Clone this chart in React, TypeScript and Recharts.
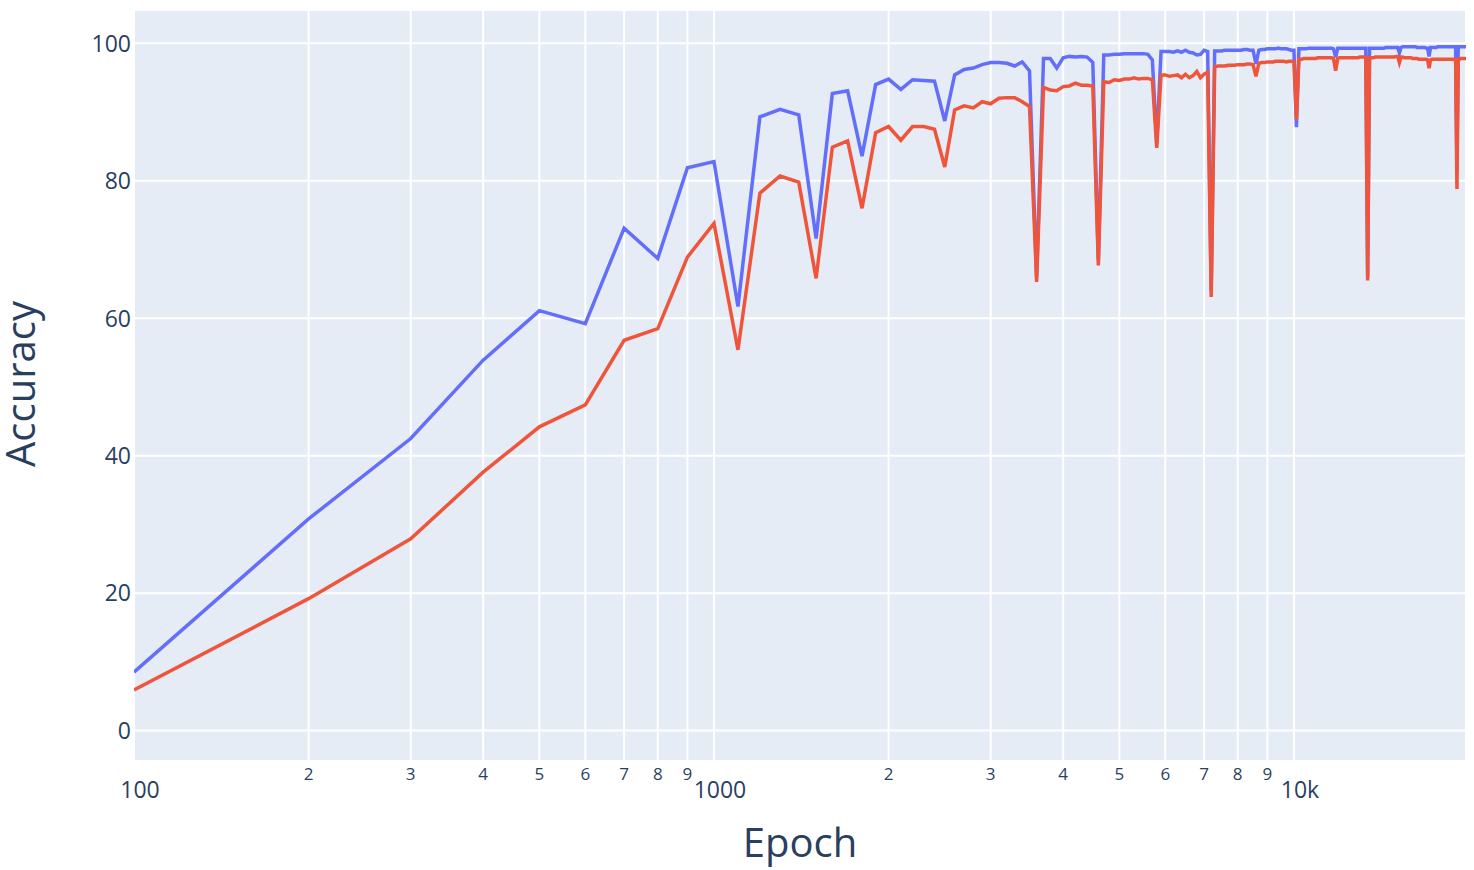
import { LineChart, Line, XAxis, YAxis, CartesianGrid } from 'recharts';

// one checkpoint every 100 epochs
const epochs = [
  100, 200, 300, 400, 500, 600, 700, 800, 900, 1000,
  1100, 1200, 1300, 1400, 1500, 1600, 1700, 1800, 1900, 2000,
  2100, 2200, 2300, 2400, 2500, 2600, 2700, 2800, 2900, 3000,
  3100, 3200, 3300, 3400, 3500, 3600, 3700, 3800, 3900, 4000,
  4100, 4200, 4300, 4400, 4500, 4600, 4700, 4800, 4900, 5000,
  5100, 5200, 5300, 5400, 5500, 5600, 5700, 5800, 5900, 6000,
  6100, 6200, 6300, 6400, 6500, 6600, 6700, 6800, 6900, 7000,
  7100, 7200, 7300, 7400, 7500, 7600, 7700, 7800, 7900, 8000,
  8100, 8200, 8300, 8400, 8500, 8600, 8700, 8800, 8900, 9000,
  9100, 9200, 9300, 9400, 9500, 9600, 9700, 9800, 9900, 10000,
  10100, 10200, 10300, 10400, 10500, 10600, 10700, 10800, 10900, 11000,
  11100, 11200, 11300, 11400, 11500, 11600, 11700, 11800, 11900, 12000,
  12100, 12200, 12300, 12400, 12500, 12600, 12700, 12800, 12900, 13000,
  13100, 13200, 13300, 13400, 13500, 13600, 13700, 13800, 13900, 14000,
  14100, 14200, 14300, 14400, 14500, 14600, 14700, 14800, 14900, 15000,
  15100, 15200, 15300, 15400, 15500, 15600, 15700, 15800, 15900, 16000,
  16100, 16200, 16300, 16400, 16500, 16600, 16700, 16800, 16900, 17000,
  17100, 17200, 17300, 17400, 17500, 17600, 17700, 17800, 17900, 18000,
  18100, 18200, 18300, 18400, 18500, 18600, 18700, 18800, 18900, 19000,
  19100, 19200, 19300, 19400, 19500, 19600, 19700, 19800,
];

// blue line
const trainAcc = [
  8.5, 30.8, 42.5, 53.9, 61.1, 59.2, 73.1, 68.7, 81.9, 82.8,
  61.7, 89.3, 90.4, 89.6, 71.6, 92.7, 93.1, 83.6, 94.0, 94.8,
  93.3, 94.7, 94.6, 94.5, 88.7, 95.4, 96.2, 96.4, 96.9, 97.2,
  97.2, 97.1, 96.7, 97.3, 96.0, 66.0, 97.8, 97.8, 96.4, 97.9,
  98.1, 98.0, 98.1, 98.0, 97.2, 68.5, 98.3, 98.3, 98.4, 98.4,
  98.5, 98.5, 98.5, 98.5, 98.5, 98.4, 97.6, 85.5, 98.8, 98.8,
  98.8, 98.7, 98.9, 98.7, 99.0, 98.7, 98.6, 98.3, 98.4, 99.0,
  98.8, 64.0, 98.9, 98.9, 98.9, 99.0, 99.0, 99.0, 99.0, 99.0,
  99.0, 99.1, 99.1, 99.0, 99.0, 97.0, 99.0, 99.1, 99.1, 99.2,
  99.2, 99.2, 99.2, 99.3, 99.2, 99.2, 99.2, 99.1, 99.0, 99.0,
  87.8, 99.2, 99.2, 99.2, 99.2, 99.3, 99.3, 99.3, 99.3, 99.3,
  99.3, 99.3, 99.3, 99.3, 99.3, 99.3, 99.2, 98.0, 99.3, 99.3,
  99.3, 99.3, 99.3, 99.3, 99.3, 99.3, 99.3, 99.3, 99.3, 99.3,
  99.3, 99.3, 99.3, 66.0, 99.3, 99.3, 99.3, 99.3, 99.3, 99.3,
  99.3, 99.3, 99.3, 99.4, 99.4, 99.4, 99.4, 99.4, 99.4, 99.4,
  99.4, 98.6, 99.4, 99.5, 99.5, 99.5, 99.5, 99.5, 99.5, 99.5,
  99.5, 99.5, 99.4, 99.4, 99.4, 99.4, 99.4, 99.4, 99.3, 99.3,
  98.1, 99.4, 99.4, 99.4, 99.4, 99.4, 99.5, 99.5, 99.5, 99.5,
  99.5, 99.5, 99.5, 99.5, 99.5, 99.5, 99.5, 99.5, 99.5, 99.5,
  81.5, 99.5, 99.5, 99.5, 99.5, 99.5, 99.5, 99.5,
];

// red line
const testAcc = [
  5.9, 19.2, 27.9, 37.6, 44.2, 47.4, 56.8, 58.5, 68.9, 73.8,
  55.4, 78.2, 80.7, 79.8, 65.8, 84.9, 85.8, 76.0, 87.0, 87.9,
  85.9, 87.9, 87.9, 87.5, 82.0, 90.3, 90.9, 90.6, 91.5, 91.2,
  92.0, 92.1, 92.1, 91.5, 90.8, 65.3, 93.6, 93.2, 93.1, 93.7,
  93.8, 94.2, 93.9, 93.9, 93.8, 67.7, 94.4, 94.3, 94.7, 94.6,
  94.8, 94.8, 95.0, 94.8, 94.9, 94.9, 94.7, 84.8, 95.4, 95.4,
  95.2, 95.3, 95.4, 95.0, 95.5, 95.0, 95.3, 95.9, 95.0, 95.5,
  95.8, 63.1, 96.6, 96.7, 96.7, 96.7, 96.8, 96.8, 96.8, 96.9,
  96.9, 96.9, 97.0, 97.0, 96.9, 95.2, 97.1, 97.2, 97.2, 97.3,
  97.3, 97.3, 97.4, 97.4, 97.4, 97.4, 97.3, 97.4, 97.4, 97.3,
  88.9, 97.7, 97.7, 97.8, 97.8, 97.8, 97.8, 97.8, 97.8, 97.9,
  97.9, 97.9, 97.9, 97.9, 97.9, 97.9, 97.8, 96.0, 97.8, 97.9,
  97.9, 97.9, 97.9, 97.9, 97.9, 97.9, 97.9, 97.9, 97.9, 98.0,
  98.0, 98.0, 98.0, 65.5, 97.9, 97.9, 97.9, 98.0, 98.0, 98.0,
  98.0, 98.0, 98.0, 98.0, 98.0, 98.0, 98.0, 98.0, 98.0, 98.1,
  98.1, 97.2, 98.0, 98.0, 97.9, 97.9, 97.9, 97.9, 97.9, 97.8,
  97.8, 97.8, 97.8, 97.7, 97.7, 97.7, 97.7, 97.7, 97.7, 97.6,
  96.4, 97.6, 97.7, 97.7, 97.7, 97.7, 97.7, 97.7, 97.7, 97.7,
  97.7, 97.7, 97.7, 97.7, 97.7, 97.7, 97.7, 97.7, 97.7, 97.6,
  78.8, 97.7, 97.7, 97.8, 97.8, 97.8, 97.8, 97.8,
];

const xTicks = [
  100, 200, 300, 400, 500, 600, 700, 800, 900,
  1000, 2000, 3000, 4000, 5000, 6000, 7000, 8000, 9000,
  10000,
];
const xTickLabels = [
  '100', '2', '3', '4', '5', '6', '7', '8', '9',
  '1000', '2', '3', '4', '5', '6', '7', '8', '9',
  '10k',
];
const majorTicks = [100, 1000, 10000];
const yTicks = [0, 20, 40, 60, 80, 100];

const data = epochs.map((epoch, i) => ({ epoch, train: trainAcc[i], test: testAcc[i] }));

const TEXT = '#2a3f5f';
const FONT = '"Open Sans", verdana, arial, sans-serif';

function EpochTick({ x, y, payload }: { x?: number; y?: number; payload?: { value: number } }) {
  const value = payload?.value ?? 0;
  const label = xTickLabels[xTicks.indexOf(value)];
  if (majorTicks.includes(value)) {
    return (
      <text x={(x ?? 0) + 6} y={(y ?? 0) + 37} textAnchor="middle" fontSize={23} fill={TEXT} fontFamily={FONT}>
        {label}
      </text>
    );
  }
  return (
    <text x={x} y={(y ?? 0) + 19} textAnchor="middle" fontSize={17} fill={TEXT} fontFamily={FONT}>
      {label}
    </text>
  );
}

function AccuracyTick({ x, y, payload }: { x?: number; y?: number; payload?: { value: number } }) {
  return (
    <text x={x} y={y} dy="0.36em" textAnchor="end" fontSize={23} fill={TEXT} fontFamily={FONT}>
      {payload?.value}
    </text>
  );
}

export default function App() {
  return (
    <div style={{ position: 'fixed', left: 0, top: 0, width: 1474, height: 870, background: '#fff' }}>
      <LineChart width={1474} height={870} data={data} margin={{ top: 10, right: 8, bottom: 49, left: 74 }}>
        <CartesianGrid fill="#E5ECF6" stroke="#ffffff" strokeWidth={2} />
        <XAxis
          dataKey="epoch"
          type="number"
          scale="log"
          domain={[100, 19800]}
          allowDataOverflow
          ticks={xTicks}
          interval={0}
          tick={(props: any) => <EpochTick {...props} />}
          tickLine={false}
          axisLine={false}
          tickSize={0}
          tickMargin={0}
          height={60}
        />
        <YAxis
          type="number"
          domain={[-4.42, 104.85]}
          allowDataOverflow
          ticks={yTicks}
          interval={0}
          tick={(props: any) => <AccuracyTick {...props} />}
          tickLine={false}
          axisLine={false}
          tickSize={0}
          tickMargin={3}
          width={60}
        />
        <Line type="linear" dataKey="train" stroke="#636efa" strokeWidth={3.5} dot={false} isAnimationActive={false} />
        <Line type="linear" dataKey="test" stroke="#ef553b" strokeWidth={3.5} dot={false} isAnimationActive={false} />
      </LineChart>
      <svg width={1474} height={870} style={{ position: 'absolute', left: 0, top: 0, pointerEvents: 'none' }}>
        <text x={35} y={384} transform="rotate(-90 35 384)" textAnchor="middle" fontSize={40} fill={TEXT} fontFamily={FONT}>
          Accuracy
        </text>
        <text x={800} y={857} textAnchor="middle" fontSize={40} fill={TEXT} fontFamily={FONT}>
          Epoch
        </text>
      </svg>
    </div>
  );
}
